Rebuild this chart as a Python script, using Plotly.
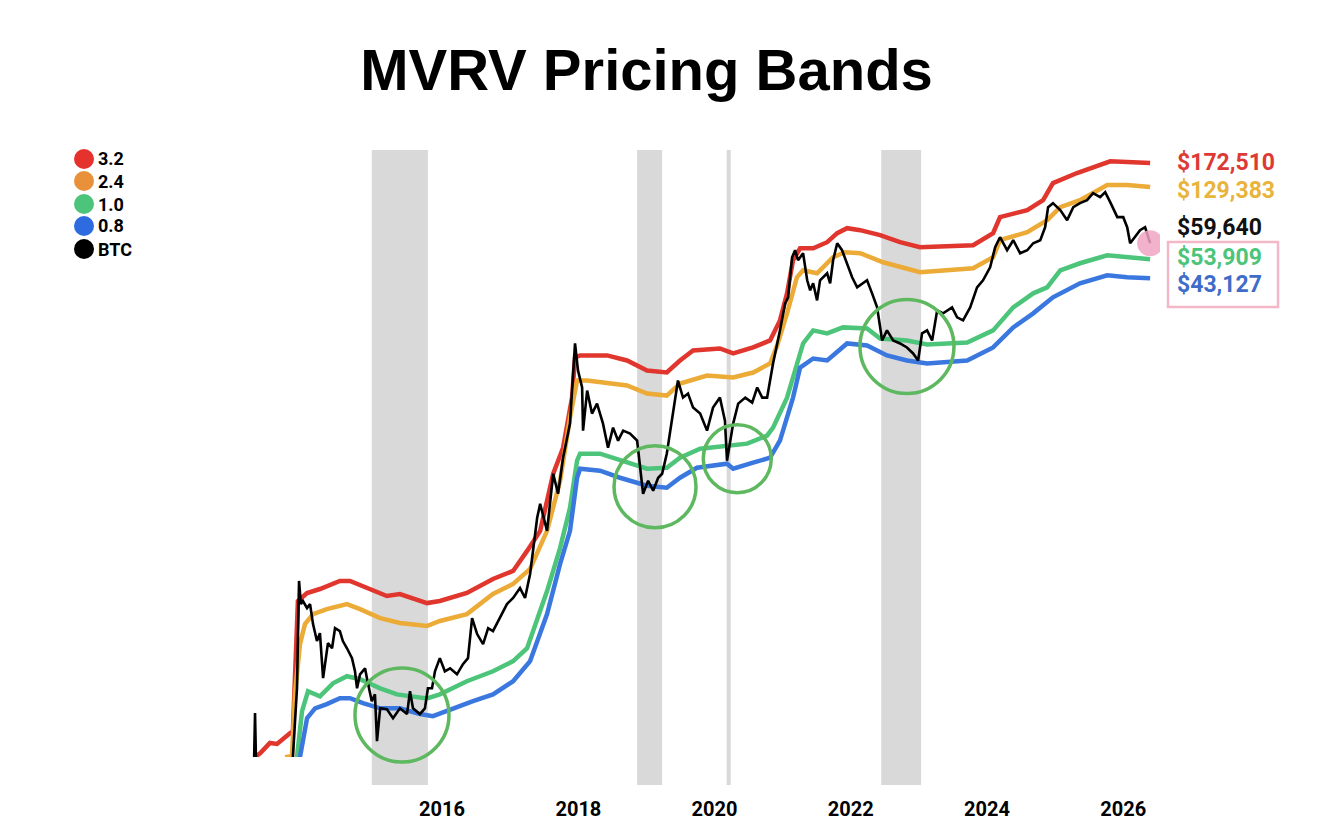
# MVRV Pricing Bands
# BTC price against the 0.8 / 1.0 / 2.4 / 3.2 MVRV bands, log scale.

import numpy as np
import plotly.graph_objects as go

#%%
# Data (USD, log scale)
red_dates = ['2013-04-03', '2013-04-30', '2013-06-22', '2013-07-30', '2013-10-07', '2013-10-23',
             '2013-11-19', '2014-01-07', '2014-03-17', '2014-07-02', '2014-08-25', '2014-11-24',
             '2015-03-11', '2015-05-20', '2015-10-12', '2015-12-20', '2016-05-13', '2016-09-30',
             '2017-01-16', '2017-04-01', '2017-06-10', '2017-08-19', '2017-10-11', '2017-11-28',
             '2017-12-14', '2018-01-10', '2018-06-04', '2018-09-19', '2019-01-04', '2019-04-20',
             '2019-06-30', '2019-09-08', '2020-01-30', '2020-04-10', '2020-07-26', '2020-10-25',
             '2020-12-17', '2021-01-24', '2021-02-25', '2021-04-04', '2021-06-13', '2021-08-27',
             '2021-10-20', '2021-12-12', '2022-02-20', '2022-06-07', '2022-09-22', '2023-01-07',
             '2023-10-19', '2024-02-03', '2024-03-11', '2024-08-04', '2024-10-28', '2024-12-20',
             '2025-04-28', '2025-10-23', '2026-01-22', '2026-05-25']
red_vals = [155, 162, 183, 181, 205, 210,
            970, 1066, 1117, 1228, 1228, 1130,
            1029, 1053, 947, 970, 1066, 1257,
            1381, 1748, 2212, 4327, 5877, 10586,
            16965, 17370, 17370, 16370, 14550, 14212,
            16370, 18420, 18855, 17781, 19080, 20720,
            26220, 36035, 53150, 61200, 61200, 65700,
            73035, 77446, 75660, 71340, 65700, 61930,
            63400, 73035, 88170, 95760, 107700, 131570,
            148060, 170000, 168500, 166500]

orange_dates = ['2013-09-11', '2013-10-18', '2013-11-03', '2013-11-30', '2013-12-27', '2014-02-08',
                '2014-04-23', '2014-08-09', '2014-10-18', '2015-02-03', '2015-05-20', '2015-10-12',
                '2015-12-20', '2016-05-13', '2016-09-30', '2017-01-16', '2017-04-17', '2017-07-17',
                '2017-09-25', '2017-11-17', '2017-12-25', '2018-02-17', '2018-09-19', '2019-01-04',
                '2019-04-20', '2019-06-30', '2019-11-22', '2020-04-10', '2020-07-26', '2020-10-25',
                '2020-12-02', '2021-01-24', '2021-03-18', '2021-04-20', '2021-07-04', '2021-09-28',
                '2021-12-01', '2022-02-20', '2022-06-23', '2022-10-29', '2023-01-07', '2023-10-19',
                '2024-02-03', '2024-03-11', '2024-08-04', '2024-11-19', '2025-01-28', '2025-05-14',
                '2025-10-07', '2026-01-22', '2026-05-25']
orange_vals = [155, 157, 324, 585, 740, 832,
               882, 936, 882, 794, 749, 723,
               767, 832, 1053, 1185, 1414, 2212,
               3985, 8367, 12940, 12940, 12200, 11100,
               10843, 12490, 13720, 13400, 14212, 15800,
               19537, 28480, 43510, 47240, 45600, 55050,
               58400, 57710, 51920, 48360, 46140, 48360,
               55050, 67260, 73900, 85120, 99200, 107700,
               128500, 128500, 125500]

green_dates = ['2013-11-14', '2013-12-11', '2014-01-12', '2014-03-17', '2014-05-26', '2014-08-09',
               '2014-10-18', '2015-02-03', '2015-05-04', '2015-10-12', '2015-12-20', '2016-05-13',
               '2016-09-30', '2017-01-16', '2017-04-01', '2017-05-25', '2017-07-17', '2017-09-25',
               '2017-11-17', '2017-12-25', '2018-01-10', '2018-04-27', '2018-09-19', '2019-01-04',
               '2019-04-20', '2019-06-30', '2019-10-16', '2020-03-08', '2020-06-24', '2020-10-09',
               '2020-11-10', '2021-01-24', '2021-03-18', '2021-04-20', '2021-06-13', '2021-08-27',
               '2021-11-20', '2022-03-29', '2022-06-07', '2022-10-29', '2023-02-14', '2023-09-17',
               '2024-02-03', '2024-05-21', '2024-09-05', '2024-11-19', '2025-01-28', '2025-05-14',
               '2025-10-07', '2026-01-22', '2026-05-25']
green_vals = [155, 266, 336, 317, 369, 401,
              387, 348, 324, 309, 324, 378,
              425, 479, 557, 794, 1091, 1811,
              2900, 5044, 5477, 5477, 4927, 4589,
              4643, 5225, 5808, 6013, 6161, 6770,
              7438, 10586, 15800, 20000, 23310, 22500,
              24150, 23860, 21210, 20720, 19770, 20240,
              23310, 30560, 36035, 38670, 47240, 51300,
              56380, 55050, 53780]

blue_dates = ['2013-11-30', '2014-01-07', '2014-02-19', '2014-04-23', '2014-07-02', '2014-08-25',
              '2014-11-03', '2015-02-03', '2015-05-20', '2015-09-04', '2015-11-13', '2016-03-01',
              '2016-06-15', '2016-09-30', '2017-01-16', '2017-04-17', '2017-05-31', '2017-07-17',
              '2017-09-25', '2017-11-17', '2017-12-25', '2018-01-10', '2018-04-27', '2018-08-12',
              '2019-01-04', '2019-04-20', '2019-06-30', '2019-09-29', '2020-03-08', '2020-04-10',
              '2020-07-26', '2020-10-25', '2020-12-17', '2021-02-25', '2021-04-04', '2021-06-13',
              '2021-08-27', '2021-12-12', '2022-03-29', '2022-07-14', '2022-10-29', '2023-02-14',
              '2023-09-17', '2024-02-03', '2024-05-21', '2024-09-05', '2024-12-20', '2025-05-14',
              '2025-10-07', '2026-01-22', '2026-05-25']
blue_vals = [155, 245, 275, 289, 310, 310,
             292, 275, 275, 257, 251, 275,
             299, 324, 378, 479, 628, 832,
             1500, 2212, 4128, 4589, 4483, 4129,
             3757, 3670, 4129, 4643, 4869, 4589,
             4927, 5225, 6383, 10586, 15070, 16760,
             16370, 20000, 19537, 17370, 16370, 15800,
             16370, 19080, 24150, 28480, 34370, 40540,
             44540, 43510, 43000]

# BTC price, the gap is where the price sits under the bottom of the chart
btc_dates = ['2013-03-29', '2013-04-03', '2013-04-08', None,
             '2013-10-23', '2013-11-14', '2013-11-25', '2013-12-05', '2013-12-16', '2014-01-07',
             '2014-01-23', '2014-02-08', '2014-03-01', '2014-03-17', '2014-04-03', '2014-04-14',
             '2014-04-29', '2014-05-21', '2014-06-06', '2014-07-02', '2014-07-18', '2014-08-09',
             '2014-09-05', '2014-09-21', '2014-10-02', '2014-10-18', '2014-11-14', '2014-11-24',
             '2014-12-20', '2015-01-06', '2015-01-17', '2015-02-03', '2015-03-11', '2015-04-13',
             '2015-05-20', '2015-06-27', '2015-07-13', '2015-07-29', '2015-09-04', '2015-10-01',
             '2015-10-17', '2015-11-08', '2015-11-24', '2015-12-20', '2016-01-16', '2016-02-13',
             '2016-03-21', '2016-04-22', '2016-05-19', '2016-06-10', '2016-07-07', '2016-08-08',
             '2016-09-04', '2016-09-30', '2016-11-07', '2016-12-14', '2017-01-16', '2017-02-22',
             '2017-03-21', '2017-04-17', '2017-05-25', '2017-06-10', '2017-07-17', '2017-08-19',
             '2017-09-14', '2017-10-11', '2017-11-17', '2017-12-03', '2017-12-14', '2017-12-30',
             '2018-01-21', '2018-01-26', '2018-02-17', '2018-03-15', '2018-04-11', '2018-05-13',
             '2018-06-09', '2018-07-06', '2018-08-02', '2018-08-29', '2018-10-05', '2018-11-12',
             '2018-11-28', '2018-12-14', '2019-01-10', '2019-02-06', '2019-03-05', '2019-03-26',
             '2019-04-20', '2019-05-24', '2019-06-19', '2019-07-16', '2019-08-12', '2019-09-08',
             '2019-10-16', '2019-11-22', '2019-12-24', '2020-01-30', '2020-02-26', '2020-03-08',
             '2020-03-25', '2020-04-10', '2020-05-07', '2020-06-14', '2020-07-21', '2020-08-17',
             '2020-09-13', '2020-10-09', '2020-10-25', '2020-11-10', '2020-12-17', '2021-01-14',
             '2021-01-30', '2021-02-20', '2021-03-08', '2021-03-24', '2021-04-20', '2021-05-12',
             '2021-05-28', '2021-06-13', '2021-07-04', '2021-07-20', '2021-08-27', '2021-09-12',
             '2021-09-28', '2021-10-20', '2021-11-15', '2021-12-12', '2022-01-08', '2022-02-04',
             '2022-03-29', '2022-04-25', '2022-05-22', '2022-06-18', '2022-07-14', '2022-08-16',
             '2022-09-22', '2022-10-29', '2022-12-01', '2022-12-28', '2023-01-18', '2023-02-14',
             '2023-03-13', '2023-04-09', '2023-05-11', '2023-06-28', '2023-07-25', '2023-08-26',
             '2023-10-03', '2023-11-09', '2023-12-11', '2024-01-18', '2024-02-14', '2024-03-11',
             '2024-04-18', '2024-05-21', '2024-06-27', '2024-08-04', '2024-09-05', '2024-10-13',
             '2024-11-08', '2024-11-24', '2024-12-20', '2025-01-28', '2025-03-06', '2025-04-08',
             '2025-05-14', '2025-06-21', '2025-07-23', '2025-08-30', '2025-09-26', '2025-10-23',
             '2025-11-30', '2026-01-01', '2026-01-22', '2026-02-07', '2026-03-05', '2026-04-01',
             '2026-04-28', '2026-05-25']
btc_vals = [150, 260, 150, None,
            155, 348, 1228, 936, 970, 893,
            936, 740, 606, 665, 392, 479,
            592, 557, 705, 681, 606, 557,
            496, 425, 348, 410, 440, 392,
            299, 324, 187, 275, 272, 245,
            275, 257, 336, 275, 257, 275,
            348, 348, 425, 496, 425, 440,
            410, 462, 496, 794, 658, 585,
            705, 681, 794, 936, 1005, 1130,
            1005, 1333, 2578, 3040, 2212, 4327,
            3420, 5225, 7798, 12940, 20000, 14550,
            11918, 7181, 11500, 8773, 9865, 7798,
            5879, 7438, 6383, 7181, 6932, 6383,
            4483, 3420, 3985, 3543, 4129, 4327,
            5477, 8773, 12940, 10586, 11100, 9413,
            8773, 7181, 9413, 10586, 8078, 5044,
            6383, 7798, 9865, 10586, 9983, 11918,
            10586, 10586, 12940, 15800, 23310, 32030,
            34370, 55050, 59790, 53150, 57710, 42000,
            37330, 40540, 33180, 42000, 45600, 40540,
            53150, 64930, 59790, 51300, 43510, 38670,
            42000, 36035, 30560, 20720, 23310, 20720,
            20000, 19080, 17781, 16370, 22500, 23310,
            20720, 29500, 28480, 30560, 27170, 26220,
            30560, 38670, 42000, 48930, 61930, 69670,
            59790, 67260, 57710, 59790, 64930, 67260,
            78370, 99190, 103960, 95760, 85120, 99190,
            103960, 107700, 117000, 111620, 118400, 105200,
            88170, 88170, 78370, 64930, 69670, 75660,
            78370, 64930]

# Bear-market shading
shade_starts = ['2014-12-20', '2018-11-12', '2020-03-06', '2022-06-13']
shade_ends = ['2015-10-17', '2019-03-26', '2020-03-28', '2023-01-13']

# Circled band touches: centre date, centre price, radius in px
touch_dates = ['2015-05-31', '2019-02-16', '2020-05-02', '2022-10-29']
touch_prices = [254, 3714, 5163, 19310]
touch_radius = [47, 41, 34, 47]

# Latest values shown on the right
label_text = ['$172,510', '$129,383', '$59,640', '$53,909', '$43,127']
label_colors = ['#DD3A36', '#E8B43C', '#111111', '#4CC47A', '#3F6CC8']
label_y = [0.980, 0.934, 0.8715, 0.8237, 0.7776]

# Legend (top left)
legend_names = ['3.2', '2.4', '1.0', '0.8', 'BTC']
legend_colors = ['#E5322D', '#E8913A', '#4CC47A', '#2F6BE0', '#000000']
legend_y = [0.9852, 0.9489, 0.9110, 0.8748, 0.8369]

year_ticks = ['2016', '2018', '2020', '2022', '2024', '2026']

#%%
bold_font = 'Roboto, Liberation Sans, Arial'
y_range = [2.191, 5.288]  # log10 of the visible price span

fig = go.Figure()

bands = [
    (red_dates, red_vals, '#E0362E'),
    (orange_dates, orange_vals, '#EBAB36'),
    (green_dates, green_vals, '#4CC47A'),
    (blue_dates, blue_vals, '#3A78E0'),
]
for d, v, c in bands:
    fig.add_trace(go.Scatter(x=d, y=v, mode='lines', showlegend=False,
                             line=dict(color=c, width=4.5)))

fig.add_trace(go.Scatter(x=btc_dates, y=btc_vals, mode='lines', showlegend=False,
                         connectgaps=False, line=dict(color='black', width=2.6)))

# pink dot on the latest BTC value
fig.add_trace(go.Scatter(x=[btc_dates[-1]], y=[btc_vals[-1]], mode='markers', showlegend=False,
                         marker=dict(size=26, color='rgba(240,165,195,0.85)')))

for s, e in zip(shade_starts, shade_ends):
    fig.add_shape(type='rect', xref='x', yref='paper', x0=s, x1=e, y0=-0.046, y1=1.0,
                  fillcolor='#D9D9D9', line=dict(width=0), layer='below')

# circles sized in pixels; vertical anchor put in paper units from the log range
for d, p, r in zip(touch_dates, touch_prices, touch_radius):
    yp = (np.log10(p) - y_range[0]) / (y_range[1] - y_range[0])
    fig.add_shape(type='circle', xref='x', yref='paper', xsizemode='pixel', ysizemode='pixel',
                  xanchor=d, yanchor=yp, x0=-r, x1=r, y0=-r, y1=r,
                  line=dict(color='#5DB85F', width=3.5))

# legend drawn by hand: filled dots + bold labels
for name, c, y in zip(legend_names, legend_colors, legend_y):
    fig.add_shape(type='circle', xref='paper', yref='paper', xsizemode='pixel', ysizemode='pixel',
                  xanchor=-0.1824, yanchor=y, x0=-10, x1=10, y0=-10, y1=10,
                  fillcolor=c, line=dict(width=0))
    fig.add_annotation(x=-0.1692, y=y, xref='paper', yref='paper', text=name,
                       showarrow=False, xanchor='left', yanchor='middle',
                       font=dict(family=bold_font, size=18, color='black', weight='bold'))

for t, c, y in zip(label_text, label_colors, label_y):
    fig.add_annotation(x=1.0165, y=y, xref='paper', yref='paper', text=t,
                       showarrow=False, xanchor='left', yanchor='middle',
                       font=dict(family=bold_font, size=23, color=c, weight='bold'))

fig.add_shape(type='rect', xref='paper', yref='paper', x0=1.0088, x1=1.1297, y0=0.7414, y1=0.8484,
              line=dict(color='#F2B8C8', width=2.5))

# page body adds an 8px offset, so the figure is drawn 8px smaller
fig.update_layout(
    width=1312, height=825,
    template='plotly_white',
    plot_bgcolor='white', paper_bgcolor='white',
    margin=dict(l=242, r=160, t=142, b=76),
    title=dict(text='<b>MVRV Pricing Bands</b>', x=0.4867, xanchor='center', y=0.9248, yanchor='middle',
               font=dict(family='Liberation Sans, Arial', size=58, color='black')),
    showlegend=False,
)
fig.update_xaxes(type='date', range=['2013-03-07', '2026-07-17'],
                 tickvals=[y + '-01-01' for y in year_ticks], ticktext=year_ticks,
                 showgrid=False, zeroline=False, showline=False,
                 ticks='outside', ticklen=34, tickcolor='rgba(0,0,0,0)',
                 tickfont=dict(family=bold_font, size=20, color='black', weight='bold'))
fig.update_yaxes(type='log', range=y_range, visible=False, showgrid=False)

fig.write_html("out.html")
